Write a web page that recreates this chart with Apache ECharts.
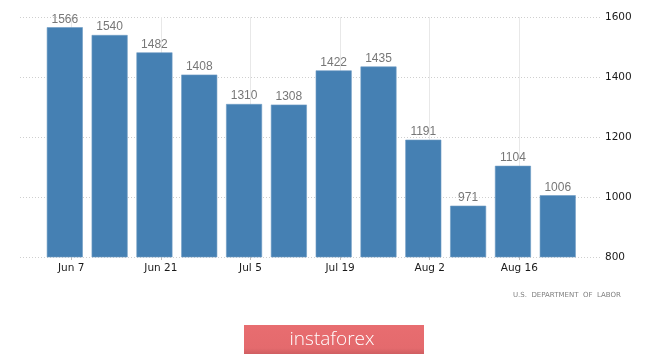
<!DOCTYPE html>
<html>
<head>
<meta charset="utf-8">
<style>
  html, body { margin: 0; padding: 0; background: #ffffff; }
  #chart { width: 665px; height: 356px; }
</style>
<script src="https://cdn.jsdelivr.net/npm/echarts@6/dist/echarts.min.js"></script>
</head>
<body>
<div id="chart"></div>
<script>
// Week-ending dates (2020) and initial jobless claims (thousands)
const weekDates = ['2020-06-06','2020-06-13','2020-06-20','2020-06-27','2020-07-04','2020-07-11',
                   '2020-07-18','2020-07-25','2020-08-01','2020-08-08','2020-08-15','2020-08-22'];
const claims = [1566, 1540, 1482, 1408, 1310, 1308, 1422, 1435, 1191, 971, 1104, 1006];

// x-axis tick dates and labels
const tickDates = ['2020-06-07','2020-06-21','2020-07-05','2020-07-19','2020-08-02','2020-08-16'];
const tickLabels = ['Jun 7', 'Jun 21', 'Jul 5', 'Jul 19', 'Aug 2', 'Aug 16'];

// y-axis ticks
const yTicks = [800, 1000, 1200, 1400, 1600];

const baseDate = '2020-05-30';
function dayNum(s) {
  const p = s.split('-').map(Number);
  const b = baseDate.split('-').map(Number);
  return Math.round((Date.UTC(p[0], p[1]-1, p[2]) - Date.UTC(b[0], b[1]-1, b[2])) / 86400000);
}
const barData = weekDates.map((d, i) => [dayNum(d), claims[i]]);
const tickVals = tickDates.map(dayNum);

const chart = echarts.init(document.getElementById('chart'), null, { renderer: 'canvas' });
chart.setOption({
  animation: false,
  backgroundColor: '#ffffff',
  grid: { left: 20, right: 65, top: 17, bottom: 99, containLabel: false },
  xAxis: {
    type: 'value',
    min: 0,
    max: 90.6,
    axisLine: { show: false },
    axisTick: { show: true, customValues: tickVals, length: 3, lineStyle: { color: '#bbbbbb' } },
    axisLabel: {
      customValues: tickVals,
      color: '#1a1a1a',
      fontFamily: 'DejaVu Sans',
      fontSize: 10.5,
      margin: 6,
      formatter: function (v) {
        const i = tickVals.indexOf(Math.round(v));
        return i >= 0 ? tickLabels[i] : '';
      }
    },
    splitLine: { show: true, lineStyle: { color: '#e8e8e8', width: 1, type: 'solid' } }
  },
  yAxis: {
    type: 'value',
    position: 'right',
    min: yTicks[0],
    max: yTicks[yTicks.length - 1],
    interval: 200,
    axisLine: { show: false },
    axisTick: { show: false },
    axisLabel: {
      color: '#1a1a1a',
      fontFamily: 'DejaVu Sans',
      fontSize: 10.5,
      margin: 5,
      formatter: function (v) { return String(v); }
    },
    splitLine: { show: true, lineStyle: { color: '#cfcfcf', width: 1, type: [1, 2] } }
  },
  series: [{
    type: 'bar',
    data: barData,
    barWidth: 36,
    itemStyle: { color: '#4580b3', borderColor: '#6f9cc4', borderWidth: 0.6 },
    label: {
      show: true,
      position: 'top',
      distance: 2,
      color: '#777777',
      fontFamily: '"Liberation Sans Narrow", "Liberation Sans", sans-serif',
      fontSize: 12
    },
    z: 3
  }],
  graphic: [
    {
      type: 'text',
      left: 513,
      top: 292,
      style: {
        text: 'U.S.  DEPARTMENT  OF  LABOR',
        fill: '#7f7f7f',
        font: '7px "DejaVu Sans"'
      }
    },
    {
      type: 'rect',
      shape: { x: 244, y: 325, width: 180, height: 29 },
      style: {
        fill: new echarts.graphic.LinearGradient(0, 0, 0, 1, [
          { offset: 0, color: '#e86d70' },
          { offset: 0.8, color: '#e46a6d' },
          { offset: 1, color: '#cf5e61' }
        ])
      }
    },
    {
      type: 'text',
      x: 332,
      y: 340,
      style: {
        text: 'instaforex',
        fill: '#ffffff',
        font: '300 19px "Open Sans"',
        align: 'center',
        verticalAlign: 'middle'
      }
    }
  ]
});
</script>
</body>
</html>
